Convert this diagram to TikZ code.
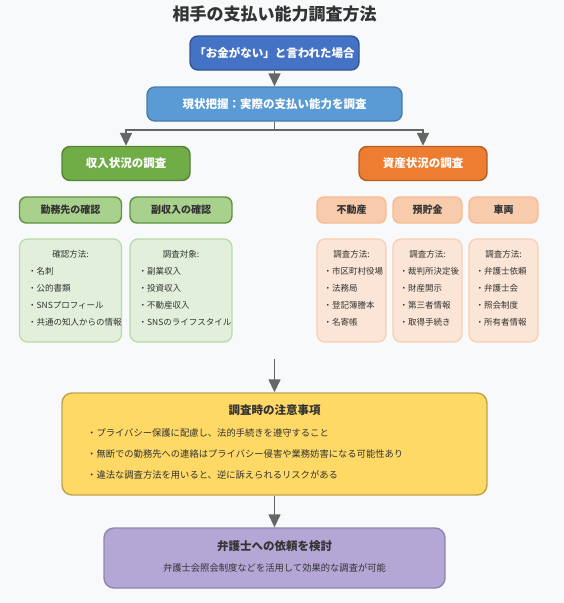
\documentclass[tikz,border=0pt]{standalone}
\usepackage{fontspec}
\setmainfont{Noto Sans CJK JP}
\usepackage{xcolor}
\usepackage{tikz}
\usetikzlibrary{arrows.meta,positioning,calc}
\definecolor{bgpaper}   {HTML}{F8F9FA}
\definecolor{inkgray}   {HTML}{333333}
\definecolor{arrgray}   {HTML}{666666}
\definecolor{askblue}   {HTML}{4472C4}
\definecolor{nowblue}   {HTML}{5B9BD5}
\definecolor{incgreen}  {HTML}{70AD47}
\definecolor{incsubg}   {HTML}{A9D18E}
\definecolor{incdetg}   {HTML}{E2EFDA}
\definecolor{astorange} {HTML}{ED7D31}
\definecolor{astsubo}   {HTML}{F8CBAD}
\definecolor{astdeto}   {HTML}{FBE5D6}
\definecolor{noteyel}   {HTML}{FFD966}
\definecolor{lawpurple} {HTML}{B4A7D6}
\tikzset{
  mainbox/.style={draw, rounded corners=8pt, align=center, inner sep=0pt,
                  line width=1.4pt, minimum height=34pt, text=white,
                  font=\fontsize{11.5}{14}\selectfont\bfseries},
  askbox/.style ={mainbox, fill=askblue, draw=askblue!75!black, minimum width=169pt},
  nowbox/.style ={mainbox, fill=nowblue, draw=nowblue!80!black, minimum width=255pt},
  incbox/.style ={mainbox, fill=incgreen, draw=incgreen!75!black, minimum width=128pt},
  astbox/.style ={mainbox, fill=astorange, draw=astorange!75!black, minimum width=128pt},
  subbox/.style ={draw, rounded corners=7pt, align=center, inner sep=0pt,
                  line width=1.4pt, minimum height=26pt, text=inkgray,
                  font=\fontsize{10}{12}\selectfont\bfseries},
  incsub/.style ={subbox, fill=incsubg, draw=incgreen!85!black, minimum width=102pt},
  astsub/.style ={subbox, fill=astsubo, draw=astsubo!80!astorange, minimum width=69pt},
  detbox/.style ={draw, rounded corners=8pt, inner sep=0pt, line width=1.2pt,
                  minimum height=103pt},
  incdet/.style ={detbox, fill=incdetg, draw=incsubg!70!incdetg, minimum width=102pt},
  astdet/.style ={detbox, fill=astdeto, draw=astsubo!90!astdeto, minimum width=69pt},
  dethead/.style={inner sep=0pt, text=inkgray, font=\fontsize{8.5}{10}\selectfont},
  detlist/.style={inner sep=0pt, anchor=west, align=left, text=inkgray,
                  font=\fontsize{8.5}{17}\selectfont},
  notebox/.style={draw=noteyel!75!black, fill=noteyel, rounded corners=10pt,
                  line width=1.4pt, minimum width=425pt, minimum height=102pt},
  lawbox/.style ={draw=lawpurple!80!black, fill=lawpurple, rounded corners=10pt,
                  line width=1.4pt, minimum width=341pt, minimum height=60pt},
  bighead/.style={inner sep=0pt, text=inkgray, font=\fontsize{11.5}{14}\selectfont\bfseries},
  arr/.style    ={-{Triangle[width=12pt,length=13pt]}, line width=1.5pt, draw=arrgray},
  trunk/.style  ={line width=1.5pt, draw=arrgray},
}
\begin{document}
\begin{tikzpicture}[x=1pt,y=-1pt]
  \fill[bgpaper] (0,0) rectangle (564,603);
  \useasboundingbox (0,0) rectangle (564,603);

  \node[inner sep=0pt, text=inkgray, font=\fontsize{17}{20}\selectfont\bfseries]
        (title) at (274.5,14) {相手の支払い能力調査方法};

  \node[askbox] (ask) at (274.5,53)  {「お金がない」と言われた場合};
  \node[nowbox] (now) at (274.5,104) {現状把握：実際の支払い能力を調査};

  \node[incbox] (inc) at (126,163.5) {収入状況の調査};
  \node[astbox] (ast) at (423,163.5) {資産状況の調査};

  % income side
  \node[incsub] (work) at (70.5,210) {勤務先の確認};
  \node[incsub] (side) at (181,210)  {副収入の確認};
  \node[incdet] (workdet) at (70.5,290.5) {};
  \node[incdet] (sidedet) at (181,290.5)  {};
  \node[dethead] (workhd) at (workdet.center |- 0,254) {確認方法:};
  \node[dethead] (sidehd) at (sidedet.center |- 0,254) {調査対象:};
  \node[detlist] (worklst) at ($(workdet.west)+(9,6)$)
        {・名刺\\・公的書類\\・SNSプロフィール\\・共通の知人からの情報};
  \node[detlist] (sidelst) at ($(sidedet.west)+(9,6)$)
        {・副業収入\\・投資収入\\・不動産収入\\・SNSのライフスタイル};

  % asset side
  \node[astsub] (land) at (351.5,210) {不動産};
  \node[astsub] (bank) at (427.5,210) {預貯金};
  \node[astsub] (car)  at (503.5,210) {車両};
  \node[astdet] (landdet) at (351.5,290.5) {};
  \node[astdet] (bankdet) at (427.5,290.5) {};
  \node[astdet] (cardet)  at (503.5,290.5) {};
  \node[dethead] (landhd) at (landdet.center |- 0,254) {調査方法:};
  \node[dethead] (bankhd) at (bankdet.center |- 0,254) {調査方法:};
  \node[dethead] (carhd)  at (cardet.center |- 0,254)  {調査方法:};
  \node[detlist] (landlst) at ($(landdet.west)+(7,6)$)
        {・市区町村役場\\・法務局\\・登記簿謄本\\・名寄帳};
  \node[detlist] (banklst) at ($(bankdet.west)+(7,6)$)
        {・裁判所決定後\\・財産開示\\・第三者情報\\・取得手続き};
  \node[detlist] (carlst)  at ($(cardet.west)+(7,6)$)
        {・弁護士依頼\\・弁護士会\\・照会制度\\・所有者情報};

  % notes and lawyer
  \node[notebox] (note) at (274.5,444) {};
  \node[bighead] (notehd) at (274.5,410) {調査時の注意事項};
  \node[detlist, font=\fontsize{9.3}{21}\selectfont] (notelst) at (87,454)
        {・プライバシー保護に配慮し、法的手続きを遵守すること\\
         ・無断での勤務先への連絡はプライバシー侵害や業務妨害になる可能性あり\\
         ・違法な調査方法を用いると、逆に訴えられるリスクがある};

  \node[lawbox] (law) at (274.5,558) {};
  \node[bighead] (lawhd) at (274.5,546) {弁護士への依頼を検討};
  \node[inner sep=0pt, text=inkgray, font=\fontsize{9.3}{11}\selectfont]
        (lawsub) at (274.5,568) {弁護士会照会制度などを活用して効果的な調査が可能};

  \coordinate (split)  at (274.5,130);
  \coordinate (gather) at (274.5,359);
  \draw[arr](ask)--(now);\draw[trunk](now)--(split);
  \draw[arr](split)-|(inc);\draw[arr](split)-|(ast);
  \draw[arr](gather)--(note);\draw[arr](note)--(law);
\end{tikzpicture}
\end{document}
